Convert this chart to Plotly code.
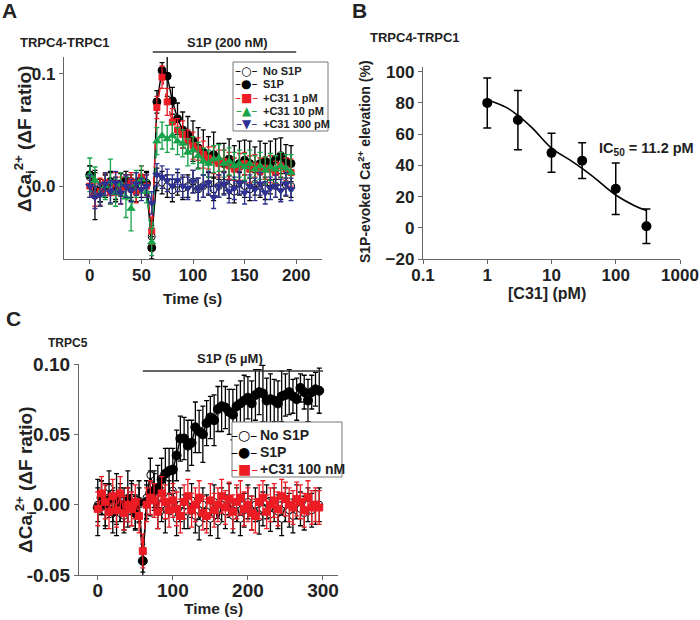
import plotly.graph_objects as go

FONT = "Liberation Sans, Arial, sans-serif"
SYM = "DejaVu Sans"
TXT = "#222222"
AXC = "#666666"
RED = "#ec1c24"
GREEN = "#17a34a"
BLUE = "#2e3192"

# ---------- panel A : TRPC4-TRPC1, S1P 200 nM ----------
tA = list(range(0, 200, 5))
noS1P_A = [0.008, 0.002, -0.004, 0.0, 0.003, -0.002, 0.001, 0.0, -0.003, 0.002,
           0.0, 0.003, -0.045, 0.006, 0.003, 0.0, -0.004, 0.002, -0.002, 0.0,
           0.004, -0.003, 0.0, 0.002, -0.003, 0.0, 0.003, -0.001, -0.005, 0.002,
           0.0, -0.003, 0.002, 0.0, -0.002, 0.003, 0.0, -0.002, 0.001, 0.0]
noS1P_A_err = [0.01] * 40
s1p_A = [0.01, -0.008, -0.004, 0.0, 0.004, -0.004, 0.002, 0.005, 0.0, -0.004,
         0.006, 0.002, -0.055, 0.075, 0.103, 0.098, 0.076, 0.06, 0.05, 0.046,
         0.04, 0.034, 0.03, 0.026, 0.028, 0.022, 0.02, 0.024, 0.018, 0.02,
         0.023, 0.02, 0.017, 0.02, 0.022, 0.02, 0.024, 0.027, 0.022, 0.02]
s1p_A_err = [0.008, 0.022, 0.01, 0.01, 0.008, 0.01, 0.01, 0.008, 0.01, 0.01,
             0.008, 0.01, 0.01, 0.01, 0.007, 0.018, 0.012, 0.014, 0.016, 0.016,
             0.018, 0.018, 0.02, 0.018, 0.02, 0.016, 0.018, 0.018, 0.018, 0.02,
             0.018, 0.02, 0.018, 0.02, 0.016, 0.02, 0.018, 0.016, 0.015, 0.016]
c1_A = [0.0, -0.008, -0.005, 0.003, -0.006, 0.002, -0.004, 0.0, 0.004, -0.005,
        0.008, 0.0, -0.04, 0.07, 0.097, 0.075, 0.057, 0.05, 0.046, 0.04,
        0.036, 0.033, 0.028, 0.025, 0.023, 0.02, 0.022, 0.018, 0.015, 0.017,
        0.02, 0.015, 0.018, 0.013, 0.016, 0.015, 0.012, 0.018, 0.015, 0.012]
c1_A_err = [0.01, 0.01, 0.012, 0.008, 0.01, 0.01, 0.012, 0.01, 0.008, 0.01,
            0.01, 0.01, 0.012, 0.01, 0.01, 0.012, 0.012, 0.01, 0.012, 0.01,
            0.012, 0.01, 0.012, 0.01, 0.012, 0.012, 0.01, 0.012, 0.01, 0.012,
            0.01, 0.012, 0.01, 0.012, 0.01, 0.012, 0.01, 0.012, 0.01, 0.012]
c10_A = [0.01, 0.005, -0.008, 0.0, 0.004, -0.006, 0.002, -0.01, -0.02, 0.002,
         0.006, -0.005, -0.05, 0.04, 0.045, 0.042, 0.045, 0.04, 0.038, 0.03,
         0.032, 0.027, 0.022, 0.02, 0.024, 0.025, 0.02, 0.022, 0.018, 0.02,
         0.017, 0.02, 0.015, 0.018, 0.014, 0.017, 0.015, 0.018, 0.016, 0.012]
c10_A_err = [0.015, 0.012, 0.01, 0.012, 0.02, 0.012, 0.01, 0.018, 0.02, 0.012,
             0.012, 0.01, 0.012, 0.012, 0.012, 0.012, 0.012, 0.012, 0.012, 0.012,
             0.012, 0.012, 0.012, 0.012, 0.012, 0.012, 0.012, 0.012, 0.012, 0.012,
             0.012, 0.012, 0.012, 0.012, 0.012, 0.012, 0.012, 0.012, 0.012, 0.016]
c300_A = [0.0, -0.01, -0.008, 0.002, -0.005, 0.003, -0.006, 0.0, -0.004, 0.002,
          -0.003, 0.0, -0.015, 0.01, 0.008, 0.005, 0.0, 0.005, 0.0, -0.002,
          0.004, -0.003, 0.0, 0.003, -0.01, 0.0, 0.002, -0.005, -0.002, 0.003,
          -0.006, 0.0, -0.003, 0.002, -0.006, -0.002, 0.0, -0.004, 0.002, -0.003]
c300_A_err = [0.01] * 40

# ---------- panel B : concentration response ----------
concB = [1, 3, 10, 30, 100, 300]
respB = [80, 69, 48, 43, 25, 1]
respB_err = [16, 19, 12.5, 11.5, 16.5, 11]
fitB_x = [1, 2, 3, 5, 10, 20, 30, 50, 100, 200, 300]
fitB_y = [82, 77, 72, 64, 51, 43, 38, 31, 21, 14, 11]

# ---------- panel C : TRPC5, S1P 5 uM ----------
tC = list(range(0, 300, 5))
s1p_C = [-0.002, 0.005, 0.0, 0.003, -0.005, 0.004, 0.0, -0.003, 0.004, 0.0,
         -0.006, 0.002, -0.04, 0.002, 0.008, 0.01, 0.012, 0.018, 0.022, 0.024,
         0.025, 0.035, 0.047, 0.047, 0.042, 0.044, 0.055, 0.052, 0.05, 0.058,
         0.062, 0.06, 0.068, 0.07, 0.069, 0.066, 0.064, 0.07, 0.072, 0.074,
         0.076, 0.072, 0.078, 0.08, 0.079, 0.074, 0.075, 0.074, 0.072, 0.077,
         0.078, 0.08, 0.077, 0.075, 0.083, 0.08, 0.074, 0.08, 0.082, 0.081]
s1p_C_err = [0.02, 0.012, 0.015, 0.012, 0.015, 0.018, 0.012, 0.015, 0.02, 0.015,
             0.012, 0.015, 0.008, 0.012, 0.016, 0.014, 0.016, 0.015, 0.018, 0.016,
             0.015, 0.018, 0.016, 0.015, 0.018, 0.016, 0.018, 0.015, 0.02, 0.016,
             0.015, 0.018, 0.016, 0.018, 0.015, 0.016, 0.018, 0.015, 0.016, 0.018,
             0.015, 0.016, 0.018, 0.016, 0.02, 0.016, 0.018, 0.015, 0.016, 0.018,
             0.015, 0.016, 0.012, 0.015, 0.01, 0.012, 0.015, 0.012, 0.012, 0.016]
noS1P_C = [0.0, 0.005, -0.005, 0.012, 0.0, -0.01, 0.003, -0.008, 0.0, 0.005,
           -0.005, 0.0, -0.04, 0.005, 0.021, 0.01, -0.005, 0.0, -0.008, 0.005,
           0.01, -0.01, 0.0, -0.005, -0.005, 0.003, -0.008, -0.013, 0.0, -0.005,
           -0.01, 0.002, -0.012, 0.0, -0.005, 0.003, -0.008, 0.0, -0.01, -0.004,
           0.002, -0.006, 0.0, -0.009, -0.003, 0.002, -0.007, 0.0, -0.005, -0.01,
           0.0, -0.004, -0.008, 0.002, -0.003, -0.006, 0.0, -0.004, -0.002, 0.0]
noS1P_C_err = [0.012] * 60
c100_C = [-0.003, 0.008, 0.002, -0.005, 0.006, -0.004, 0.008, -0.006, 0.0, -0.003,
          0.002, -0.008, -0.033, 0.0, 0.005, 0.003, -0.005, 0.008, 0.002, -0.004,
          0.003, -0.003, -0.008, 0.002, 0.006, -0.004, 0.0, 0.005, -0.006, -0.008,
          0.003, -0.004, 0.0, 0.006, -0.002, 0.004, -0.005, 0.002, 0.005, -0.003,
          0.0, -0.006, -0.008, 0.002, 0.005, -0.005, 0.0, 0.003, -0.003, 0.006,
          0.004, 0.0, -0.002, 0.004, 0.002, -0.004, 0.005, -0.002, 0.0, -0.002]
c100_C_err = [0.012] * 60


def px(x, y):
    return x / 700, 1 - y / 620


def series(x, y, err, color, sym, ax, dash="solid", fill=None, size=7):
    return go.Scatter(
        x=x, y=y, mode="lines+markers", xaxis="x" + ax, yaxis="y" + ax,
        line=dict(color=color, width=1.4, dash=dash),
        marker=dict(symbol=sym, size=size, color=fill or color,
                    line=dict(color=color, width=1)),
        error_y=dict(type="data", array=err, color=color, thickness=1.3, width=2.5),
        showlegend=False)


fig = go.Figure()
fig.add_trace(series(tA, noS1P_A, noS1P_A_err, "black", "circle", "", fill="white"))
fig.add_trace(series(tA, s1p_A, s1p_A_err, "black", "circle", "", size=8))
fig.add_trace(series(tA, c1_A, c1_A_err, RED, "square", "", dash="dash", size=6))
fig.add_trace(series(tA, c10_A, c10_A_err, GREEN, "triangle-up", "", dash="dash"))
fig.add_trace(series(tA, c300_A, c300_A_err, BLUE, "triangle-down", "", dash="dash"))

fig.add_trace(go.Scatter(x=fitB_x, y=fitB_y, mode="lines", xaxis="x2", yaxis="y2",
                         line=dict(color="black", width=1.6, shape="spline"),
                         showlegend=False))
fig.add_trace(go.Scatter(x=concB, y=respB, mode="markers", xaxis="x2", yaxis="y2",
                         marker=dict(color="black", size=10),
                         error_y=dict(type="data", array=respB_err, color="black",
                                      thickness=1.5, width=4),
                         showlegend=False))

fig.add_trace(series(tC, noS1P_C, noS1P_C_err, "black", "circle", "3", fill="white", size=7))
fig.add_trace(series(tC, s1p_C, s1p_C_err, "black", "circle", "3", size=9))
fig.add_trace(series(tC, c100_C, c100_C_err, RED, "square", "3", dash="dash", size=7))


def axis(x0, x1, rng, size, **kw):
    d = dict(domain=[x0, x1], range=rng, showline=True, linecolor=AXC, linewidth=1.3,
             ticks="outside", ticklen=4, tickcolor=AXC, tickwidth=1.3, showgrid=False,
             zeroline=False, automargin=False,
             tickfont=dict(family=FONT, size=size, color=TXT, weight="bold"))
    d.update(kw)
    return d


fig.update_layout(
    width=700, height=620, margin=dict(l=0, r=0, t=0, b=0, autoexpand=False),
    paper_bgcolor="white", plot_bgcolor="white",
    xaxis=axis(64 / 700, 322 / 700, [-25, 225], 17, anchor="y",
               tickvals=[0, 50, 100, 150, 200], ticklabelstandoff=-4),
    yaxis=axis(1 - 259 / 620, 1 - 57 / 620, [-0.065, 0.115], 17, anchor="x",
               tickvals=[0.0, 0.1], ticktext=["0.0", "0.1"]),
    xaxis2=axis(423 / 700, 680 / 700, [-1, 3], 17, anchor="y2", type="log",
                tickvals=[0.1, 1, 10, 100, 1000], ticktext=["0.1", "1", "10", "100", "1000"],
                ticklabelstandoff=-4),
    yaxis2=axis(1 - 259 / 620, 1 - 67 / 620, [-20, 103], 17, anchor="x2",
                tickvals=[-20, 0, 20, 40, 60, 80, 100]),
    xaxis3=axis(79 / 700, 338 / 700, [-25, 320], 19, anchor="y3",
                tickvals=[0, 100, 200, 300], ticklabelstandoff=-6),
    yaxis3=axis(1 - 575 / 620, 1 - 364 / 620, [-0.05, 0.10], 19, anchor="x3",
                tickvals=[-0.05, 0.0, 0.05, 0.10], ticktext=["-0.05", "0.00", "0.05", "0.10"]),
)

ann = []


def label(text, x, y, size, angle=0, bold=True, color=TXT, family=FONT, xanchor="center"):
    xp, yp = px(x, y)
    ann.append(dict(text=text, x=xp, y=yp, xref="paper", yref="paper", showarrow=False,
                    textangle=angle, xanchor=xanchor, yanchor="middle",
                    font=dict(family=family, size=size, color=color,
                              weight="bold" if bold else "normal")))


label("A", 9, 11, 21)
label("B", 359, 11, 21)
label("C", 13, 318, 21)
label("TRPC4-TRPC1", 65, 42, 13)
label("S1P (200 nM)", 227, 42, 13)
label("TRPC4-TRPC1", 415, 37, 13)
label("TRPC5", 68, 343, 12)
label("S1P (5 µM)", 230, 359, 13)
label("IC<sub>50</sub> = 11.2 pM", 646, 149, 14.5)
label("ΔCa<sub>i</sub><sup>2+</sup> (ΔF ratio)", 25, 139, 19, angle=-90)
label("Time (s)", 193, 298, 15.5)
label("S1P-evoked Ca<sup>2+</sup> elevation (%)", 364, 162, 14, angle=-90)
label("[C31] (pM)", 547, 294, 16)
label("ΔCa<sub>i</sub><sup>2+</sup> (ΔF ratio)", 25, 480, 19, angle=-90)
label("Time (s)", 213, 608, 15.5)

# hand-made legends (compact, as in the original)
legA = [("–○–", "black", "No S1P"), ("–●–", "black", "S1P"), ("–■–", RED, "+C31 1 pM"),
        ("–▲–", GREEN, "+C31 10 pM"), ("–▼–", BLUE, "+C31 300 pM")]
for i, (s, c, t) in enumerate(legA):
    yy = 71 + i * 13.3
    label(s, 246, yy, 12, color=c, family=SYM, bold=False)
    label(t, 261, yy, 11, xanchor="left")
legC = [("–○–", "black", "No S1P"), ("–●–", "black", "S1P"), ("–■–", RED, "+C31 100 nM")]
for i, (s, c, t) in enumerate(legC):
    yy = 435 + i * 17
    label(s, 244, yy, 14, color=c, family=SYM, bold=False)
    label(t, 258, yy, 14, xanchor="left")

shapes = []
x0, y0 = px(233, 62)
x1, y1 = px(328, 131)
shapes.append(dict(type="rect", xref="paper", yref="paper", x0=x0, y0=y0, x1=x1, y1=y1,
                   line=dict(color="#777", width=1), fillcolor="white", layer="above"))
x0, y0 = px(232, 422)
x1, y1 = px(342, 477)
shapes.append(dict(type="rect", xref="paper", yref="paper", x0=x0, y0=y0, x1=x1, y1=y1,
                   line=dict(color="#777", width=1), fillcolor="white", layer="above"))
# stimulus bars
shapes.append(dict(type="line", xref="x", yref="paper", x0=61, x1=200,
                   y0=1 - 52 / 620, y1=1 - 52 / 620, line=dict(color="#333", width=1.5)))
shapes.append(dict(type="line", xref="x3", yref="y3", x0=60, x1=300,
                   y0=0.095, y1=0.095, line=dict(color="#333", width=1.5)))

fig.update_layout(annotations=ann, shapes=shapes)
fig.write_html("out.html", config={"displayModeBar": False},
               post_script="document.body.style.margin='0px';")
